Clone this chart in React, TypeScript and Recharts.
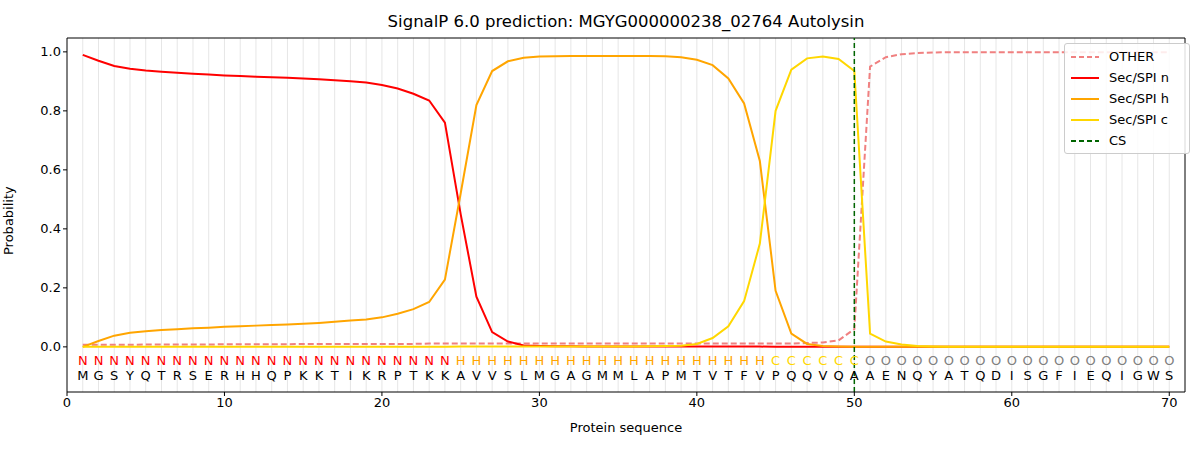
import React from 'react';
import { LineChart, Line, XAxis, YAxis, ReferenceLine } from 'recharts';

const sequence = 'MGSYQTRSERHHQPKKTIKRPTKKAVVSLMGAGMMLAPMTVTFVPQQVQAAENQYATQDISGFIEQIGWS'.split('');
const regions = [...Array(24).fill('N'), ...Array(20).fill('H'), ...Array(6).fill('C'), ...Array(20).fill('O')];

const secN = [0.99, 0.97, 0.952, 0.943, 0.937, 0.933, 0.929, 0.926, 0.923, 0.92, 0.918, 0.916, 0.914, 0.912, 0.91, 0.907, 0.904, 0.9, 0.896, 0.888, 0.876, 0.858, 0.835, 0.76, 0.45, 0.17, 0.05, 0.018, 0.005, 0.003, 0.002, 0.002, 0.001, 0.001, 0.001, 0.001, 0.001, 0.001, 0.001, 0.001, 0.001, 0.001, 0.001, 0.001, 0, 0, 0, 0, 0, 0, 0, 0, 0, 0, 0, 0, 0, 0, 0, 0, 0, 0, 0, 0, 0, 0, 0, 0, 0, 0];
const secH = [0.0, 0.02, 0.038, 0.048, 0.053, 0.057, 0.06, 0.063, 0.065, 0.068, 0.07, 0.072, 0.074, 0.076, 0.078, 0.081, 0.085, 0.089, 0.093, 0.1, 0.112, 0.128, 0.152, 0.228, 0.52, 0.82, 0.935, 0.968, 0.98, 0.984, 0.985, 0.986, 0.986, 0.986, 0.986, 0.986, 0.986, 0.985, 0.982, 0.973, 0.955, 0.91, 0.825, 0.63, 0.19, 0.045, 0.01, 0.003, 0.001, 0, 0, 0, 0, 0, 0, 0, 0, 0, 0, 0, 0, 0, 0, 0, 0, 0, 0, 0, 0, 0];
const secC = [0, 0, 0, 0, 0, 0, 0, 0, 0, 0, 0, 0, 0, 0, 0, 0, 0, 0, 0, 0, 0, 0, 0, 0, 0.001, 0.001, 0.001, 0.001, 0.001, 0.001, 0.001, 0.001, 0.001, 0.001, 0.001, 0.001, 0.002, 0.003, 0.004, 0.01, 0.03, 0.07, 0.155, 0.35, 0.8, 0.94, 0.978, 0.984, 0.976, 0.935, 0.045, 0.018, 0.008, 0.003, 0.001, 0, 0, 0, 0, 0, 0, 0, 0, 0, 0, 0, 0, 0, 0, 0];
const other = [0.007, 0.007, 0.007, 0.007, 0.008, 0.008, 0.008, 0.008, 0.008, 0.009, 0.009, 0.009, 0.009, 0.009, 0.01, 0.01, 0.01, 0.01, 0.01, 0.01, 0.01, 0.01, 0.011, 0.011, 0.011, 0.011, 0.011, 0.011, 0.011, 0.011, 0.011, 0.011, 0.011, 0.011, 0.011, 0.011, 0.011, 0.011, 0.011, 0.011, 0.011, 0.011, 0.011, 0.011, 0.011, 0.011, 0.013, 0.015, 0.022, 0.06, 0.95, 0.982, 0.992, 0.996, 0.998, 0.999, 0.999, 0.999, 0.999, 0.999, 0.999, 0.999, 0.999, 0.999, 0.999, 0.999, 0.999, 0.999, 0.999, 0.999];

const xTicks = [0, 10, 20, 30, 40, 50, 60, 70];
const yTicks = [0, 0.2, 0.4, 0.6, 0.8, 1.0];
const regionColors: Record<string, string> = { N: '#ff0000', H: '#ffa500', C: '#ffd700', O: '#808080' };

const data = sequence.map((aa, i) => ({
  pos: i + 1,
  aa,
  region: regions[i],
  other: other[i],
  n: secN[i],
  h: secH[i],
  c: secC[i],
  rowTop: -0.045,
  rowBottom: -0.098,
}));

const font = 'DejaVu Sans, sans-serif';

const RegionDot = (props: any) => {
  const { cx, cy, payload } = props;
  return (
    <text key={`r${payload.pos}`} x={cx} y={cy} textAnchor="middle" dominantBaseline="central" fontSize={13} fontFamily={font} fill={regionColors[payload.region]}>
      {payload.region}
    </text>
  );
};

const AaDot = (props: any) => {
  const { cx, cy, payload } = props;
  return (
    <text key={`a${payload.pos}`} x={cx} y={cy} textAnchor="middle" dominantBaseline="central" fontSize={13} fontFamily={font} fill="#000">
      {payload.aa}
    </text>
  );
};

const legendItems = [
  { label: 'OTHER', color: '#f08080', dash: '5 3' },
  { label: 'Sec/SPI n', color: '#ff0000', dash: '' },
  { label: 'Sec/SPI h', color: '#ffa500', dash: '' },
  { label: 'Sec/SPI c', color: '#ffd700', dash: '' },
  { label: 'CS', color: '#006400', dash: '5 3' },
];

export default function App() {
  return (
    <div style={{ position: 'absolute', left: 0, top: 0, width: 1200, height: 450, background: '#fff', fontFamily: font }}>
      <div style={{ position: 'absolute', top: 12, left: 0, width: 1252, textAlign: 'center', fontSize: 16.5 }}>
        SignalP 6.0 prediction: MGYG000000238_02764 Autolysin
      </div>
      <LineChart width={1200} height={450} data={data} margin={{ top: 38, right: 15, bottom: 28, left: 0 }}>
        <XAxis type="number" dataKey="pos" domain={[0, 71]} ticks={xTicks} allowDataOverflow stroke="#000" height={30}
          tick={{ fontSize: 13, fill: '#000', fontFamily: font }} tickSize={4} />
        <YAxis type="number" domain={[-0.153, 1.047]} ticks={yTicks} width={67} stroke="#000" allowDataOverflow
          tickFormatter={(v: number) => v.toFixed(1)} tick={{ fontSize: 13, fill: '#000', fontFamily: font }} tickSize={4}
          label={{ value: 'Probability', angle: -90, position: 'insideLeft', offset: 8, dy: 40, fontSize: 13, fill: '#000', fontFamily: font }} />
        {data.map((d) => (
          <ReferenceLine key={`g${d.pos}`} x={d.pos} stroke="#e6e6e6" strokeWidth={1} />
        ))}
        <ReferenceLine y={1.047} stroke="#000" />
        <ReferenceLine x={71} stroke="#000" />
        <Line dataKey="other" stroke="#f08080" strokeWidth={2} strokeDasharray="6 3" dot={false} isAnimationActive={false} />
        <Line dataKey="n" stroke="#ff0000" strokeWidth={2} dot={false} isAnimationActive={false} />
        <Line dataKey="h" stroke="#ffa500" strokeWidth={2} dot={false} isAnimationActive={false} />
        <Line dataKey="c" stroke="#ffd700" strokeWidth={2} dot={false} isAnimationActive={false} />
        <ReferenceLine x={50} stroke="#006400" strokeWidth={1.5} strokeDasharray="5 3" />
        <Line dataKey="rowTop" stroke="none" dot={RegionDot} activeDot={false} isAnimationActive={false} />
        <Line dataKey="rowBottom" stroke="none" dot={AaDot} activeDot={false} isAnimationActive={false} />
      </LineChart>
      <div style={{ position: 'absolute', left: 0, top: 420, width: 1252, textAlign: 'center', fontSize: 13 }}>
        Protein sequence
      </div>
      <div style={{ position: 'absolute', left: 1064, top: 43, width: 112, border: '1px solid #ccc', borderRadius: 3, background: 'rgba(255,255,255,0.85)', padding: '2px 6px', fontSize: 13 }}>
        {legendItems.map((it) => (
          <div key={it.label} style={{ display: 'flex', alignItems: 'center', height: 21 }}>
            <svg width={30} height={10} style={{ marginRight: 8 }}>
              <line x1={0} y1={5} x2={28} y2={5} stroke={it.color} strokeWidth={2} strokeDasharray={it.dash} />
            </svg>
            {it.label}
          </div>
        ))}
      </div>
    </div>
  );
}
